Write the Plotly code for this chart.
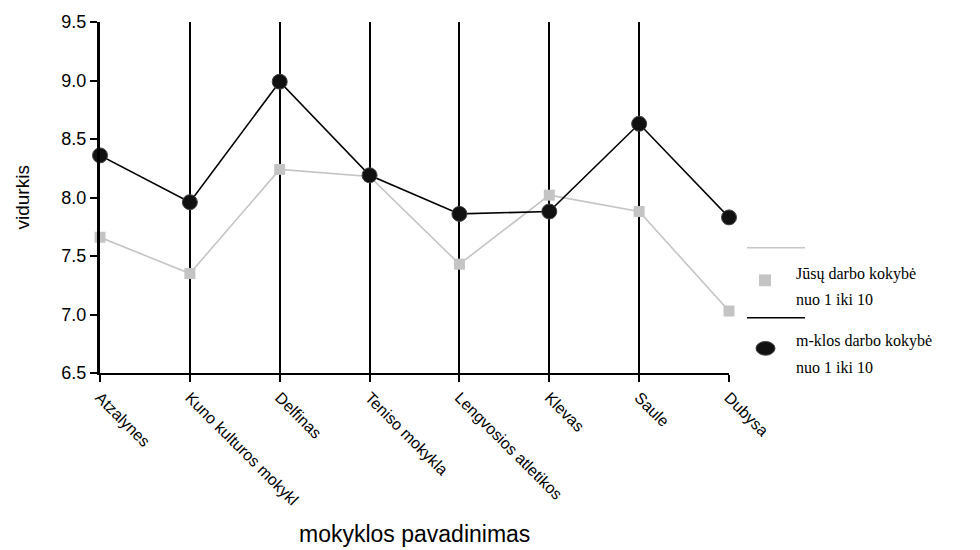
import plotly.graph_objects as go

# School names along the x axis
schools = ["Atzalynes", "Kuno kulturos mokykl", "Delfinas", "Teniso mokykla",
           "Lengvosios atletikos", "Klevas", "Saule", "Dubysa"]

# Average scores (1..10 scale)
jusu_darbo = [7.66, 7.35, 8.24, 8.18, 7.43, 8.02, 7.88, 7.03]
mklos_darbo = [8.36, 7.96, 8.99, 8.19, 7.86, 7.88, 8.63, 7.83]

y_ticks = [6.5, 7.0, 7.5, 8.0, 8.5, 9.0, 9.5]

W, H = 980, 550
ML, MR, MT, MB = 100, 251, 17, 177

sans = "Liberation Sans, Arial, sans-serif"
serif = "Liberation Serif, Times New Roman, serif"

fig = go.Figure()

fig.add_trace(go.Scatter(
    x=list(range(len(schools))), y=jusu_darbo, mode="lines+markers",
    name="Jūsų darbo kokybė nuo 1 iki 10",
    line=dict(color="#c4c4c4", width=1.6),
    marker=dict(symbol="square", size=11, color="#c4c4c4"),
    cliponaxis=False, showlegend=False,
))
fig.add_trace(go.Scatter(
    x=list(range(len(schools))), y=mklos_darbo, mode="lines+markers",
    name="m-klos darbo kokybė nuo 1 iki 10",
    line=dict(color="#000000", width=1.6),
    marker=dict(symbol="circle", size=15, color="#111111",
                line=dict(color="#444444", width=1)),
    cliponaxis=False, showlegend=False,
))

fig.update_layout(
    width=W, height=H,
    margin=dict(l=ML, r=MR, t=MT, b=MB),
    paper_bgcolor="white", plot_bgcolor="white",
    font=dict(family=sans, color="black"),
    xaxis=dict(
        range=[0, len(schools) - 1],
        tickmode="array", tickvals=list(range(len(schools))), ticktext=schools,
        tickangle=45, tickfont=dict(size=16, family=sans),
        showgrid=True, gridcolor="black", gridwidth=2,
        showline=True, linecolor="black", linewidth=2,
        ticks="outside", ticklen=7, tickwidth=2, tickcolor="black",
        zeroline=False,
    ),
    yaxis=dict(
        range=[6.5, 9.5],
        tickmode="array", tickvals=y_ticks,
        ticktext=[f"{v:.1f}" for v in y_ticks],
        tickfont=dict(size=18, family=sans),
        showgrid=False, zeroline=False,
        showline=True, linecolor="black", linewidth=3,
        ticks="outside", ticklen=7, tickwidth=2, tickcolor="black",
    ),
)

# Axis titles
fig.add_annotation(text="vidurkis", xref="paper", yref="paper",
                   x=-(ML - 22) / (W - ML - MR), y=0.5, textangle=-90,
                   showarrow=False, xanchor="center", yanchor="middle",
                   font=dict(size=19, family=sans))
fig.add_annotation(text="mokyklos pavadinimas", xref="paper", yref="paper",
                   x=0.5, y=-(536 - (H - MB)) / (H - MT - MB),
                   showarrow=False, xanchor="center", yanchor="middle",
                   font=dict(size=23, family=sans))

# Custom legend drawn in paper coordinates
pw, ph = W - ML - MR, H - MT - MB


def px(x):
    return (x - ML) / pw


def py(y):
    return 1 - (y - MT) / ph


fig.add_shape(type="line", xref="paper", yref="paper",
              x0=px(747), x1=px(805), y0=py(246), y1=py(246),
              line=dict(color="#c4c4c4", width=1.5))
fig.add_shape(type="rect", xref="paper", yref="paper",
              x0=px(759), x1=px(771), y0=py(273), y1=py(285),
              fillcolor="#c4c4c4", line=dict(width=0))
fig.add_shape(type="line", xref="paper", yref="paper",
              x0=px(747), x1=px(805), y0=py(317), y1=py(317),
              line=dict(color="black", width=1.5))
fig.add_shape(type="circle", xref="paper", yref="paper",
              x0=px(756), x1=px(775), y0=py(341), y1=py(355),
              fillcolor="#111111", line=dict(color="#444444", width=1))

legend_lines = [
    ("Jūsų darbo kokybė", 273),
    ("nuo 1 iki 10", 298),
    ("m-klos darbo kokybė", 341),
    ("nuo 1 iki 10", 367),
]
for txt, yy in legend_lines:
    fig.add_annotation(text=txt, xref="paper", yref="paper",
                       x=px(794), y=py(yy), showarrow=False,
                       xanchor="left", yanchor="middle",
                       font=dict(size=16, family=serif, color="black"))

fig.write_html("out.html")
